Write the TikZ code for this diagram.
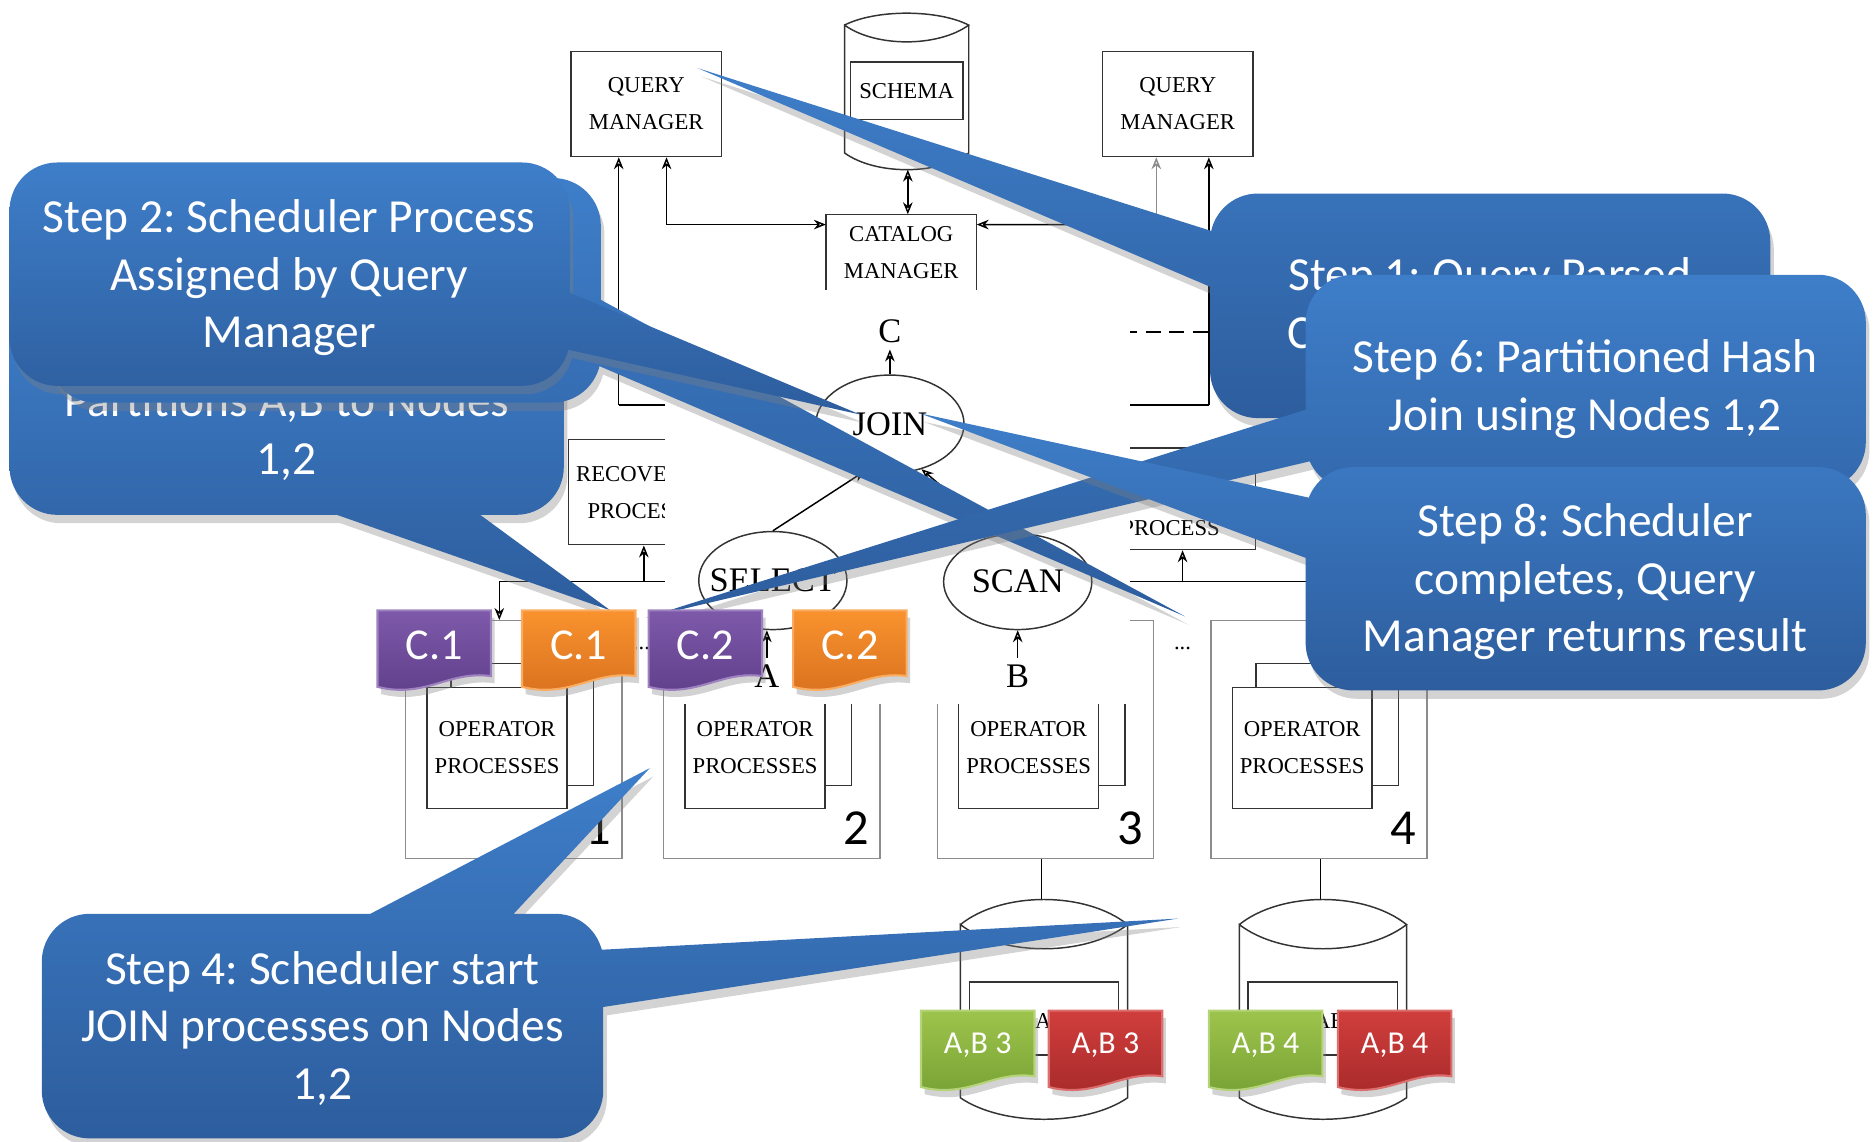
\documentclass[tikz,border=0pt]{standalone}
\usepackage{fontspec}
\setmainfont{Liberation Serif}
\newfontfamily\calibri{Carlito}
\usepackage{tikz}
\usetikzlibrary{positioning, calc, arrows.meta, shapes.geometric, shadows}
\frenchspacing

\definecolor{calltop}{RGB}{62,126,201}
\definecolor{callbot}{RGB}{45,93,157}
\definecolor{purtop}{RGB}{126,89,170}
\definecolor{purbot}{RGB}{94,62,137}
\definecolor{oratop}{RGB}{249,146,46}
\definecolor{orabot}{RGB}{216,112,30}
\definecolor{gretop}{RGB}{157,196,75}
\definecolor{grebot}{RGB}{118,160,52}
\definecolor{redtop}{RGB}{208,62,60}
\definecolor{redbot}{RGB}{166,41,42}

\newcommand{\diagfont}{\fontsize{5.4}{8.8}\selectfont}
\newcommand{\treefont}{\fontsize{8.2}{10}\selectfont}
\newcommand{\callfont}{\calibri\fontsize{11.3}{13.7}\selectfont}
\newcommand{\tagbig}{\calibri\fontsize{10.5}{12}\selectfont}
\newcommand{\tagsmall}{\calibri\fontsize{7.6}{9}\selectfont}

% tag with a wavy foot: name, x, y, top colour, bottom colour, text, font
\newcommand{\doctag}[7]{%
  \path[tagshape, top color=#4, bottom color=#5, draw=#4!75!white]
    (#2,#3) -- (#2+95,#3) -- (#2+95,#3+55)
    .. controls (#2+60,#3+50) and (#2+40,#3+74) .. (#2,#3+64) -- cycle;
  \node[tagtext, font=#7] (#1) at (#2+47.5,#3+29) {#6};}

\begin{document}
\begin{tikzpicture}[x=0.01cm, y=-0.01cm, line width=0.35pt,
  >={Stealth[open, length=1mm, width=0.8mm]},
  box/.style={draw=black!80, inner sep=0, align=center, font=\diagfont},
  diag/.style={inner sep=0, font=\diagfont},
  ell/.style={ellipse, draw=black!80, inner sep=0, minimum width=1.24cm, minimum height=0.82cm},
  lbl/.style={inner sep=1.5pt, font=\treefont},
  digit/.style={inner sep=0, font=\calibri\fontsize{12}{14}\selectfont},
  callout/.style={top color=calltop, bottom color=callbot, rounded corners=0.4cm,
    drop shadow={opacity=0.35, shadow xshift=0.3mm, shadow yshift=-0.7mm}},
  calltext/.style={text=white, align=center, inner sep=0, font=\callfont},
  tagshape/.style={line width=0.5pt,
    drop shadow={opacity=0.35, shadow xshift=0.3mm, shadow yshift=-0.6mm}},
  tagtext/.style={text=white, inner sep=0}]
  \useasboundingbox (0,0) rectangle (1568,956);

  % managers and catalog
  \node[box, minimum width=1.26cm, minimum height=0.88cm] (qm1) at (541,87) {QUERY\\MANAGER};
  \node[box, minimum width=1.26cm, minimum height=0.88cm] (qm2) at (986,87) {QUERY\\MANAGER};
  \draw[black!80] (707,21) .. controls (733,7.7) and (785,7.7) .. (811,21)
    .. controls (785,39.7) and (733,39.7) .. (707,21) -- (707,128)
    .. controls (733,146.7) and (785,146.7) .. (811,128) -- (811,21);
  \node[box, minimum width=0.94cm, minimum height=0.48cm] (schema) at (759,76) {SCHEMA};
  \coordinate (drum) at (760,142);
  \node[diag, align=center, minimum width=1.25cm, minimum height=0.63cm] (cat) at (754.5,211.5) {CATALOG\\MANAGER};
  \draw[black!80] (cat.south west) |- (cat.north east) -- (cat.south east);
  \draw[<->] (drum) -- (drum |- cat.north);
  \draw[<->] (qm1.south -| 558,0) |- ([yshift=0.235cm]cat.west);
  \coordinate (qm2in) at (968,188);
  \draw[->, black!45] (qm2in) -- (qm2.south -| qm2in);
  \draw[->] (qm2in) -- ([yshift=0.235cm]cat.east);

  % scheduler side
  \coordinate (lq) at (518,339);
  \draw[->] (lq) -- (qm1.south -| lq);
  \draw (lq) -- (600,339);
  \coordinate (rq) at (1012,339);
  \draw[->] (rq) -- (qm2.south -| rq);
  \draw (rq) -- (900,339);
  \draw[dash pattern=on 3.6pt off 2pt] (900,278) -- (1013,278);
  \node[box, minimum width=1.14cm, minimum height=0.88cm] (rec) at (533,412) {RECOVERY\\PROCESS};
  \node[box, minimum width=1.42cm, minimum height=0.85cm] (sched) at (980,417.5) {};
  \node[diag] at (980,442) {PROCESS};
  \coordinate (lbus) at (418,487);
  \coordinate (rbus) at (1095,487);
  \draw (lbus) -- (600,487);
  \draw (900,487) -- (rbus);
  \draw[->] (lbus -| 539,0) -- (rec.south -| 539,0);
  \draw[->] (rbus -| 990,0) -- (sched.south -| 990,0);

  % nodes 1..4
  \foreach \k/\l in {1/339, 2/555, 3/784, 4/1013} {
    \node[box, draw=black!45, anchor=north west, minimum width=1.81cm, minimum height=1.99cm] (n\k) at (\l,519) {};
    \node[box, fill=white, anchor=north west, minimum width=1.19cm, minimum height=1.02cm] (bk\k) at (\l+38,555) {};
    \node[box, fill=white, anchor=north west, minimum width=1.17cm, minimum height=1.01cm] (op\k) at (\l+18,575) {OPERATOR\\PROCESSES};
    \node[digit] (d\k) at (\l+162,693) {\k};
  }
  \draw[->] (lbus) -- (lbus |- n1.north);
  \node[diag] at (537,543) {...};
  \node[diag] at (990,543) {...};

  % disks
  \foreach \c/\k in {874/3, 1107.5/4} {
    \draw[black!80] (\c-70,774) .. controls (\c-35,746) and (\c+35,746) .. (\c+70,774)
      .. controls (\c+35,801) and (\c-35,801) .. (\c-70,774) -- (\c-70,919)
      .. controls (\c-35,943) and (\c+35,943) .. (\c+70,919) -- (\c+70,774);
    \node[box, minimum width=1.25cm, minimum height=0.61cm] (db\k) at (\c,852.5) {};
    \node[diag, anchor=base west] at (\c-8,861) {AB};
    \draw (n\k.south -| \c-2,0) -- (\c-2,753);
  }

  % white patch of the pasted figure
  \fill[white] (557,243) rectangle (946,589);

  % query tree
  \node[ell] (join) at (745,355) {};
  \node[ell] (select) at (647,486) {};
  \node[ell, minimum height=0.8cm] (scan) at (852,487) {};
  \node[lbl, inner sep=0] at (join) {JOIN};
  \node[lbl, inner sep=0] at (select) {SELECT};
  \node[lbl, inner sep=0] at (scan) {SCAN};
  \node[lbl] (c) at (745,277) {C};
  \node[lbl] (a) at (642,566) {A};
  \node[lbl] (b) at (852,566) {B};
  \draw[->] (join.north) -- (c.south);
  \draw[->] (select.north) -- (join.242);
  \draw[->] (scan.112) -- (join.-55);
  \draw[->] (a.north) -- (a.north |- select.south);
  \draw[->] (b.north) -- (scan.south);

  % callouts
  \coordinate (t1) at (584,57);
  \coordinate (t2) at (720,347);
  \coordinate (t3) at (511,511);
  \coordinate (tb) at (992,516);
  \coordinate (t6) at (541,517);
  \coordinate (t8) at (770,346);
  \coordinate (t4a) at (544,643);
  \coordinate (t4b) at (986,769);

  \path[callout] (240,243) -- (472,243) -- (472,431) -- (8,431) -- (8,243) -- cycle
    [sharp corners] ($(t3)!1.3!(402,431)$) -- (t3) -- ($(t3)!1.3!(282,431)$) -- cycle;
  \node[calltext] (s3) at (240,361.5) {Partitions A,B to Nodes\\1,2};

  \path[callout] (271,149) -- (503,149) -- (503,337) -- (40,337) -- (40,149) -- cycle
    [sharp corners] ($(tb)!1.08!(503,251)$) -- (tb) -- ($(tb)!1.08!(503,307)$) -- cycle;

  \path[callout] (242,136) -- (477,136) -- (477,323) -- (8,323) -- (8,136) -- cycle
    [sharp corners] ($(t2)!1.15!(477,245)$) -- (t2) -- ($(t2)!1.15!(477,293)$) -- cycle;
  \node[calltext] (s2) at (242,232.5) {Step 2: Scheduler Process\\Assigned by Query\\Manager};

  \path[callout] (1247,162) -- (1482,162) -- (1482,350) -- (1013,350) -- (1013,162) -- cycle
    [sharp corners] ($(t1)!1.08!(1013,240)$) -- (t1) -- ($(t1)!1.08!(1013,193)$) -- cycle;
  \node[calltext] (s1) at (1247,254) {Step 1: Query Parsed\\\makebox[8.5em][l]{C}};

  \path[callout] (1327,230) -- (1562,230) -- (1562,410) -- (1093,410) -- (1093,230) -- cycle
    [sharp corners] ($(t6)!1.07!(1093,387)$) -- (t6) -- ($(t6)!1.07!(1093,343)$) -- cycle;
  \node[calltext] (s6) at (1327,325.5) {Step 6: Partitioned Hash\\Join using Nodes 1,2};

  \path[callout] (1327,391) -- (1562,391) -- (1562,578) -- (1093,578) -- (1093,391) -- cycle
    [sharp corners] ($(t8)!1.12!(1093,467)$) -- (t8) -- ($(t8)!1.12!(1093,416)$) -- cycle;
  \node[calltext] (s8) at (1327,487) {Step 8: Scheduler\\completes, Query\\Manager returns result};

  \path[callout] (270,765) -- (505,765) -- (505,953) -- (35,953) -- (35,765) -- cycle
    [sharp corners] ($(t4a)!1.25!(310,765)$) -- (t4a) -- ($(t4a)!1.25!(430,765)$) -- cycle
    ($(t4b)!1.08!(505,795)$) -- (t4b) -- ($(t4b)!1.08!(505,843)$) -- cycle;
  \node[calltext] (s4) at (270,861) {Step 4: Scheduler start\\JOIN processes on Nodes\\1,2};

  % partition tags
  \doctag{c1p}{316}{511}{purtop}{purbot}{C.1}{\tagbig}
  \doctag{c1o}{437}{511}{oratop}{orabot}{C.1}{\tagbig}
  \doctag{c2p}{543}{511}{purtop}{purbot}{C.2}{\tagbig}
  \doctag{c2o}{664}{511}{oratop}{orabot}{C.2}{\tagbig}
  \doctag{ab3g}{771}{846}{gretop}{grebot}{A,B 3}{\tagsmall}
  \doctag{ab3r}{878}{846}{redtop}{redbot}{A,B 3}{\tagsmall}
  \doctag{ab4g}{1012}{846}{gretop}{grebot}{A,B 4}{\tagsmall}
  \doctag{ab4r}{1120}{846}{redtop}{redbot}{A,B 4}{\tagsmall}
\end{tikzpicture}
\end{document}
